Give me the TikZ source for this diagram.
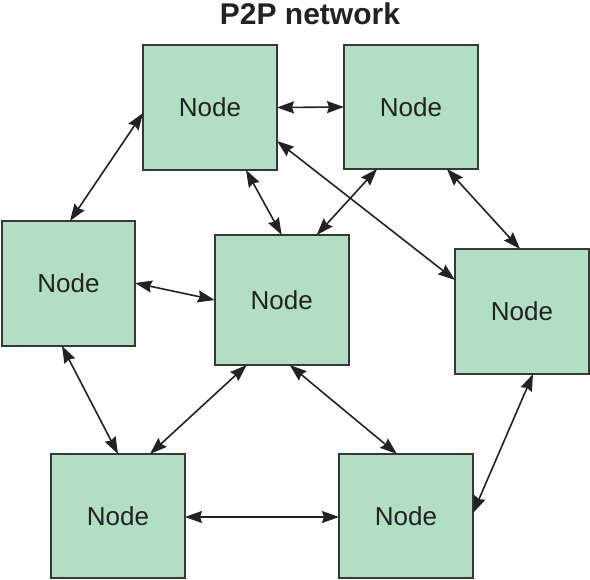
\documentclass[tikz,border=0pt]{standalone}
\usepackage{fontspec}
\setmainfont{Liberation Sans}
\usetikzlibrary{arrows.meta}
\definecolor{boxfill}{HTML}{B2DEC3}
\definecolor{ink}{HTML}{222222}
\begin{document}
\begin{tikzpicture}[x=1pt,y=-1pt,
  peer/.style={draw=ink!90, line width=1.8pt, fill=boxfill, minimum width=134pt, minimum height=125pt, inner sep=0pt, outer sep=0pt, text=ink, font=\fontsize{26}{30}\selectfont},
  link/.style={draw=ink, line width=1.6pt, {Stealth[length=17pt,width=12pt,inset=2pt]}-{Stealth[length=17pt,width=12pt,inset=2pt]}}
]
\useasboundingbox (0,0) rectangle (590,580);
\node[font=\bfseries\fontsize{30}{34}\selectfont, text=ink] (title) at (310,14) {P2P network};
\node[peer] (A) at (210,107.5) {Node};
\node[peer, minimum height=124pt] (B) at (411,107) {Node};
\node[peer, minimum width=133pt] (C) at (68.5,283.5) {Node};
\node[peer, minimum height=130pt] (D) at (281.7,300) {Node};
\node[peer] (E) at (522,311.5) {Node};
\node[peer, minimum height=124pt] (F) at (118,516) {Node};
\node[peer, minimum height=124pt] (G) at (406,516) {Node};

\draw[link] (A.east) -- (B.west);
\draw[link] ([yshift=-5.5pt]A.west) -- ([xshift=1.5pt]C.north);
\draw[link] ([xshift=36pt]A.south) -- (D.north);
\draw[link] ([yshift=-33.5pt]A.east) -- ([yshift=31.5pt]E.west);
\draw[link] ([xshift=-34pt]B.south) -- ([xshift=35pt]D.north);
\draw[link] ([xshift=36pt]B.south) -- ([xshift=-2pt]E.north);
\draw[link] ([yshift=0.5pt]C.east) -- (D.west);
\draw[link] ([xshift=-6.5pt]C.south) -- (F.north);
\draw[link] ([xshift=-35pt]D.south) -- ([xshift=32pt]F.north);
\draw[link] ([xshift=8pt]D.south) -- ([xshift=-9pt]G.north);
\draw[link] ([xshift=11pt]E.south) -- ([yshift=3pt]G.east);
\draw[link] ([yshift=-1pt]F.east) -- ([yshift=-1pt]G.west);
\end{tikzpicture}
\end{document}
